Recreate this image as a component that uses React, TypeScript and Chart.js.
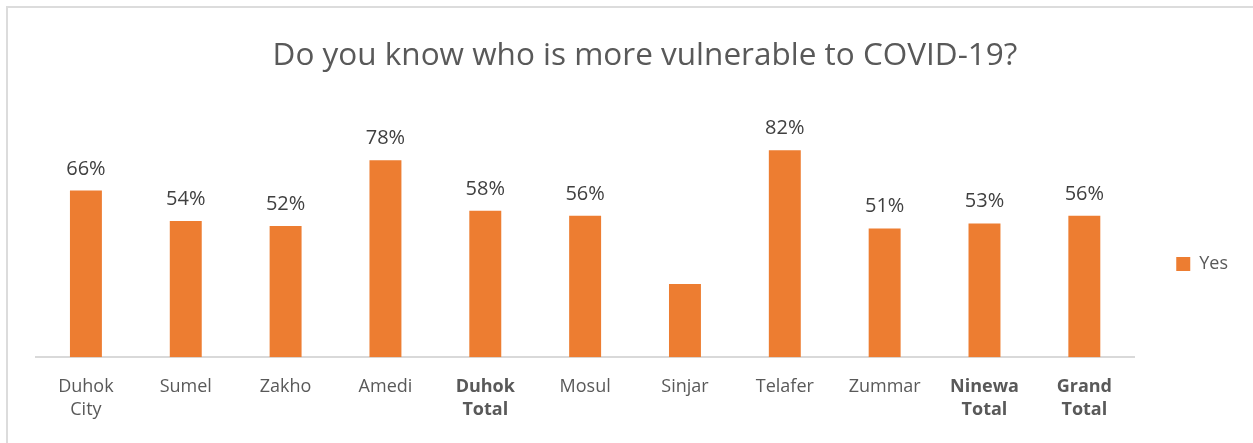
import React, { useEffect, useRef } from "react";
import { Chart, registerables } from "chart.js";

Chart.register(...registerables);

const categories: (string | string[])[] = [
  ["Duhok", "City"],
  "Sumel",
  "Zakho",
  "Amedi",
  ["Duhok", "Total"],
  "Mosul",
  "Sinjar",
  "Telafer",
  "Zummar",
  ["Ninewa", "Total"],
  ["Grand", "Total"],
];
const yesValues: number[] = [66, 54, 52, 78, 58, 56, 29, 82, 51, 53, 56];
const boldCategoryIndexes: number[] = [4, 9, 10];
const hiddenLabelIndexes: number[] = [6];
const seriesName = "Yes";
const titleText = "Do you know who is more vulnerable to COVID-19?";

const FONT = "'Open Sans', 'Noto Sans', sans-serif";

const dataLabelPlugin = {
  id: "dataLabels",
  afterDatasetsDraw(chart: any) {
    const ctx = chart.ctx;
    const meta = chart.getDatasetMeta(0);
    ctx.save();
    ctx.font = `20px ${FONT}`;
    ctx.fillStyle = "#404040";
    ctx.textAlign = "center";
    ctx.textBaseline = "alphabetic";
    meta.data.forEach((bar: any, i: number) => {
      if (hiddenLabelIndexes.includes(i)) return;
      ctx.fillText(`${yesValues[i]}%`, bar.x, bar.y - 16);
    });
    ctx.restore();
  },
};

export default function App() {
  const canvasRef = useRef<HTMLCanvasElement | null>(null);

  useEffect(() => {
    document.body.style.margin = "0";
    document.body.style.overflow = "hidden";
    Chart.defaults.font.family = FONT;
    const chart = new Chart(canvasRef.current as HTMLCanvasElement, {
      type: "bar",
      data: {
        labels: categories,
        datasets: [
          {
            label: seriesName,
            data: yesValues,
            backgroundColor: "#ED7D31",
            borderWidth: 0,
            barPercentage: 0.64,
            categoryPercentage: 0.5,
          },
        ],
      },
      options: {
        animation: false,
        responsive: false,
        maintainAspectRatio: false,
        layout: { padding: { left: 36, right: 36, top: 0, bottom: 3 } },
        plugins: {
          title: {
            display: true,
            text: titleText,
            color: "#595959",
            font: { size: 31.5, weight: "normal", family: FONT },
            padding: { top: 37, bottom: 30 },
          },
          legend: {
            display: true,
            position: "right",
            title: {
              display: true,
              text: " ",
              font: { size: 10 },
              padding: { top: 38, bottom: 38 },
            },
            labels: {
              boxWidth: 14,
              boxHeight: 14,
              color: "#595959",
              font: { size: 18, family: FONT },
              padding: 42,
            },
          },
          tooltip: { enabled: false },
        },
        scales: {
          x: {
            grid: { display: false, drawTicks: false },
            border: { display: true, color: "#d9d9d9", width: 2 },
            ticks: {
              color: "#595959",
              padding: 18,
              maxRotation: 0,
              autoSkip: false,
              font: (c: any) => ({
                size: 18,
                family: FONT,
                lineHeight: 1.3,
                weight: boldCategoryIndexes.includes(c.index) ? "bold" : "normal",
              }),
            },
          },
          y: {
            display: true,
            position: "right",
            weight: 2000,
            min: 0,
            max: 100,
            grid: { display: false, drawTicks: false },
            border: { display: false },
            ticks: { display: false },
            afterFit: (scale: any) => {
              scale.width = 16;
            },
          },
        },
      },
      plugins: [dataLabelPlugin],
    });
    return () => chart.destroy();
  }, []);

  return (
    <div style={{ position: "relative", width: 1253, height: 443, overflow: "hidden", background: "#fff" }}>
      <div
        style={{
          position: "absolute",
          left: 6,
          top: 6,
          width: 1400,
          height: 600,
          border: "2px solid #dcdcdc",
          boxSizing: "border-box",
        }}
      />
      <canvas
        ref={canvasRef}
        width={1290}
        height={443}
        style={{ position: "absolute", left: 0, top: 0, width: 1290, height: 443 }}
      />
    </div>
  );
}
